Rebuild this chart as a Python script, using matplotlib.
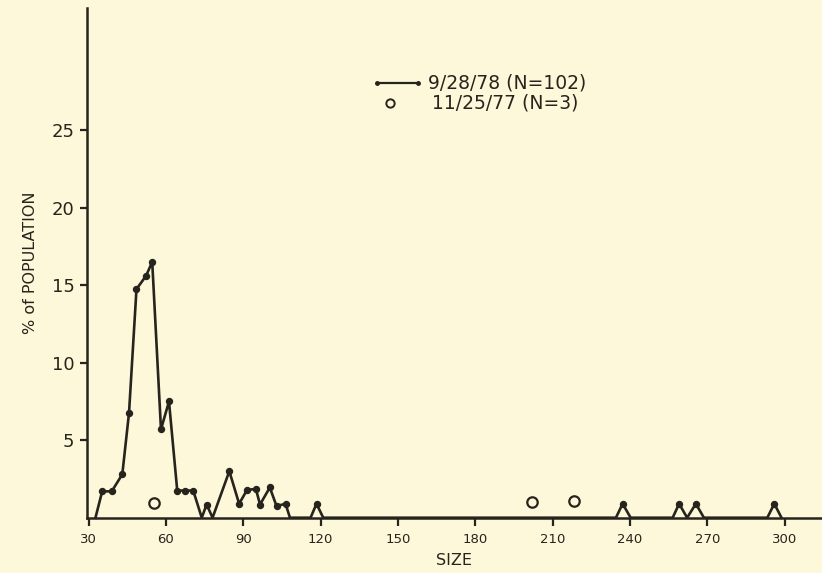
import numpy as np
import matplotlib
matplotlib.use('Agg')
import matplotlib.pyplot as plt
from matplotlib.lines import Line2D

# 9/28/78 sample (N=102): size vs % of population
size_928 = [32.7, 35.3, 39.0, 43.1, 45.7, 48.6, 52.3, 54.7, 58.1, 61.2,
            64.4, 67.4, 70.6, 73.9, 75.8, 78.1, 84.6, 88.4, 91.5, 94.9,
            96.5, 100.3, 102.9, 106.4, 108.1, 116.1, 118.4, 121.0,
            234.5, 237.1, 240.2, 256.5, 259.0, 262.1, 265.5, 268.6,
            293.2, 295.9, 298.7]
pct_928 = [0.0, 1.7, 1.7, 2.8, 6.75, 14.75, 15.6, 16.5, 5.7, 7.5,
           1.75, 1.75, 1.75, 0.0, 0.85, 0.0, 3.0, 0.9, 1.8, 1.85,
           0.85, 1.95, 0.75, 0.9, 0.0, 0.0, 0.9, 0.0,
           0.0, 0.9, 0.0, 0.0, 0.9, 0.0, 0.9, 0.0,
           0.0, 0.9, 0.0]

# 11/25/77 sample (N=3)
size_1125 = [55.5, 201.8, 218.2]
pct_1125 = [0.92, 1.03, 1.1]

x_ticks = [30, 60, 90, 120, 150, 180, 210, 240, 270, 300]
y_ticks = [5, 10, 15, 20, 25]

BG = '#fdf8da'
INK = '#26241d'

fig = plt.figure(figsize=(8.22, 5.73), dpi=100, facecolor=BG)
ax = fig.add_axes([0.1058, 0.0965, 0.8942, 0.89])
ax.set_facecolor(BG)

x = np.array(size_928)
y = np.array(pct_928)
ax.plot(x, y, color=INK, lw=1.9, clip_on=False, zorder=3)
m = y > 0
ax.plot(x[m], y[m], 'o', color=INK, ms=4.3, clip_on=False, zorder=4)
ax.plot(size_1125, pct_1125, 'o', mfc='none', mec=INK, mew=1.6, ms=7.5,
        clip_on=False, zorder=4)

ax.set_xlim(29.4, 314.4)
ax.set_ylim(0, 32.9)
ax.set_xticks(x_ticks)
ax.set_xticklabels([str(t) for t in x_ticks], fontsize=9.5, color=INK)
ax.set_yticks(y_ticks)
ax.set_yticklabels([str(t) for t in y_ticks], fontsize=13, color=INK)
ax.tick_params(axis='x', direction='out', length=6, width=1.6, pad=5, colors=INK)
ax.tick_params(axis='y', direction='out', length=5, width=1.6, pad=4, colors=INK)

for s in ['top', 'right']:
    ax.spines[s].set_visible(False)
for s in ['left', 'bottom']:
    ax.spines[s].set_linewidth(1.8)
    ax.spines[s].set_color(INK)

ax.set_xlabel('SIZE', fontsize=11.5, color=INK, labelpad=5)
ax.set_ylabel('% of POPULATION', fontsize=11.5, color=INK, labelpad=10)

# hand-made legend
fig.add_artist(Line2D([0.4586, 0.5085], [0.8557, 0.8557], color=INK, lw=1.6,
                      marker='o', ms=2.5, transform=fig.transFigure))
fig.text(0.5207, 0.8557, '9/28/78 (N=102)', fontsize=13.5, color=INK,
         va='center', ha='left')
fig.add_artist(Line2D([0.4745], [0.8208], color=INK, ls='none', marker='o',
                      mfc='none', mec=INK, mew=1.4, ms=6,
                      transform=fig.transFigure))
fig.text(0.5255, 0.8208, '11/25/77 (N=3)', fontsize=13.5, color=INK,
         va='center', ha='left')

fig.savefig('out.png', dpi=100, facecolor=BG)
